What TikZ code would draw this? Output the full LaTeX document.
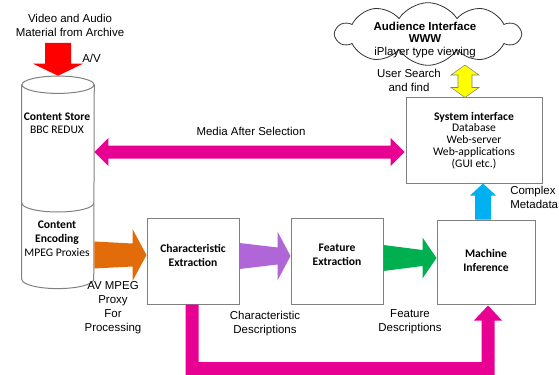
\documentclass[tikz,border=0pt]{standalone}
\usepackage{fontspec}
\setmainfont{Liberation Sans}
\newfontfamily\calfont{Carlito}
\usetikzlibrary{shapes.symbols,calc}
\definecolor{boxgray}{RGB}{128,128,128}
\definecolor{mag}{RGB}{231,0,145}
\definecolor{orng}{RGB}{227,108,10}
\definecolor{purp}{RGB}{176,102,214}
\definecolor{grn}{RGB}{0,176,80}
\definecolor{skyb}{RGB}{0,176,240}
\definecolor{yel}{RGB}{255,255,0}
\newcommand\hblockarrow[7]{\fill[#1] ($(#2)+(0,-#4)$) -- ($(#3)+(-#7,-#5)$) -- ($(#3)+(-#7,-#6)$) -- (#3) -- ($(#3)+(-#7,#6)$) -- ($(#3)+(-#7,#5)$) -- ($(#2)+(0,#4)$) -- cycle;}
\begin{document}
\begin{tikzpicture}[x=0.75pt,y=-0.75pt,
  box/.style={draw=boxgray,line width=0.75pt,fill=white,inner sep=0pt},
  ar/.style={font=\fontsize{8.6}{10.5}\selectfont,align=center,inner sep=0pt},
  ca/.style={font=\calfont\fontsize{8.7}{10.5}\selectfont,align=center,inner sep=0pt},
  cas/.style={font=\calfont\fontsize{8.7}{8.9}\selectfont,align=center,inner sep=0pt},
  cyline/.style={draw=boxgray,line width=0.75pt},
]
\useasboundingbox (0,0) rectangle (559,374);

% cylinder
\node[inner sep=0pt, minimum width=54pt, minimum height=145.5pt] (cyl) at (58,182) {};
\draw[cyline] (cyl.north west) -- (cyl.south west) arc[start angle=180,end angle=360,x radius=27pt,y radius=7pt] -- (cyl.north east);
\draw[cyline] (cyl.north) ellipse[x radius=27pt, y radius=6.5pt];
\draw[cyline] ($(cyl.west)+(0,21)$) arc[start angle=180,end angle=360,x radius=27pt,y radius=6.75pt];

% boxes
\node[box, cas, minimum width=102pt, minimum height=63.75pt] (sys) at (474,140.5) {\textbf{System interface}\\Database\\Web-server\\Web-applications\\(GUI etc.)};
\node[box, minimum width=69pt, minimum height=64.5pt] (char) at (193,261) {};
\node[box, minimum width=69pt, minimum height=64.5pt] (feat) at (337,261) {};
\node[box, minimum width=73.5pt, minimum height=63pt] (mach) at (486,262) {};
\node[ca] (chartxt) at (193,255) {\textbf{Characteristic}\\\textbf{Extraction}};
\node[ca] (feattxt) at (337,255) {\textbf{Feature}\\\textbf{Extraction}};
\node[ca] (machtxt) at (486,260) {\textbf{Machine}\\\textbf{Inference}};

% cloud
\node[cloud, draw=black!80, line width=0.6pt, cloud puffs=10, cloud puff arc=115, aspect=3, minimum width=138pt, minimum height=47pt, inner sep=0pt] (cloud) at (428,34) {};
\node[ar, font=\fontsize{8.6}{9.2}\selectfont] (cloudtxt) at (425,40) {\textbf{Audience Interface}\\\textbf{WWW}\\iPlayer type viewing};

% red arrow
\coordinate (avtop) at (58,43);
\coordinate (cyltop) at ($(cyl.north)+(0,-9)$);
\fill[red] ($(avtop)+(-13,0)$) -- ($(cyltop)+(-13,-12)$) -- ($(cyltop)+(-25,-12)$) -- (cyltop) -- ($(cyltop)+(25,-12)$) -- ($(cyltop)+(13,-12)$) -- ($(avtop)+(13,0)$) -- cycle;

% media after selection
\coordinate (mediay) at (250,152);
\coordinate (mL) at (cyl.east |- mediay);
\coordinate (mR) at ($(sys.west |- mediay)+(-1,0)$);
\fill[mag] (mL) -- ($(mL)+(14,-14)$) -- ($(mL)+(14,-6.5)$) -- ($(mR)+(-14,-6.5)$) -- ($(mR)+(-14,-14)$) -- (mR) -- ($(mR)+(-14,14)$) -- ($(mR)+(-14,6.5)$) -- ($(mL)+(14,6.5)$) -- ($(mL)+(14,14)$) -- cycle;

% yellow double arrow
\coordinate (ytop) at (465,65);
\coordinate (ybot) at (ytop |- sys.north);
\filldraw[fill=yel, draw=boxgray, line width=0.4pt] (ytop) -- ($(ytop)+(14,10)$) -- ($(ytop)+(7,10)$) -- ($(ybot)+(7,-10)$) -- ($(ybot)+(14,-10)$) -- (ybot) -- ($(ybot)+(-14,-10)$) -- ($(ybot)+(-7,-10)$) -- ($(ytop)+(-7,10)$) -- ($(ytop)+(-14,10)$) -- cycle;

% blue arrow
\coordinate (bbot) at ($(mach.north)+(-3,0)$);
\coordinate (btop) at (bbot |- sys.south);
\fill[skyb] ($(bbot)+(-8,0)$) -- ($(btop)+(-8,12)$) -- ($(btop)+(-13,12)$) -- (btop) -- ($(btop)+(13,12)$) -- ($(btop)+(8,12)$) -- ($(bbot)+(8,0)$) -- cycle;

% process arrows
\coordinate (otip) at ($(char.west)+(0,-6)$);
\coordinate (ostart) at (cyl.east |- otip);
\hblockarrow{orng}{ostart}{otip}{13.5}{11.5}{26}{14}
\coordinate (ptip) at ($(feat.west)+(0,-5)$);
\coordinate (pstart) at (char.east |- ptip);
\hblockarrow{purp}{pstart}{ptip}{13}{8.5}{24.5}{13}
\coordinate (gtip) at ($(mach.west)+(0,-4)$);
\coordinate (gstart) at (feat.east |- gtip);
\hblockarrow{grn}{gstart}{gtip}{13}{8}{20.5}{14}

% elbow magenta arrow
\coordinate (eS) at ($(char.south)+(-1,0)$);
\coordinate (eT) at ($(mach.south)+(2,1)$);
\coordinate (ebar) at (300,368.5);
\coordinate (eSb) at (eS |- ebar);
\coordinate (eTb) at (eT |- ebar);
\fill[mag] ($(eS)+(-6.5,0)$) -- ($(eSb)+(-6.5,6.5)$) -- ($(eTb)+(6.5,6.5)$) -- ($(eT)+(6.5,15)$) -- ($(eT)+(14,15)$) -- (eT) -- ($(eT)+(-14,15)$) -- ($(eT)+(-6.5,15)$) -- ($(eTb)+(-6.5,-6.5)$) -- ($(eSb)+(6.5,-6.5)$) -- ($(eS)+(6.5,0)$) -- cycle;

% labels
\node[ar] (vidtxt) at (70,25) {Video and Audio\\Material from Archive};
\node[ar, anchor=west] (avtxt) at (82,58) {A/V};
\node[ca, font=\calfont\fontsize{8.7}{9.75}\selectfont] (storetxt) at (57,123.5) {\textbf{Content Store}\\BBC REDUX};
\node[ca] (enctxt) at (57,239) {\textbf{Content}\\\textbf{Encoding}\\MPEG Proxies};
\node[ar] (mediatxt) at (251,131) {Media After Selection};
\node[ar] (usertxt) at (409,80) {User Search\\and find};
\node[ar, anchor=west, align=left] (cmtxt) at (510,197) {Complex\\Metadata};
\node[ar] (avmtxt) at (113,308) {AV MPEG\\Proxy\\For\\Processing};
\node[ar] (cdtxt) at (265,324) {Characteristic\\Descriptions};
\node[ar] (fdtxt) at (410,322) {Feature\\Descriptions};
\end{tikzpicture}
\end{document}
